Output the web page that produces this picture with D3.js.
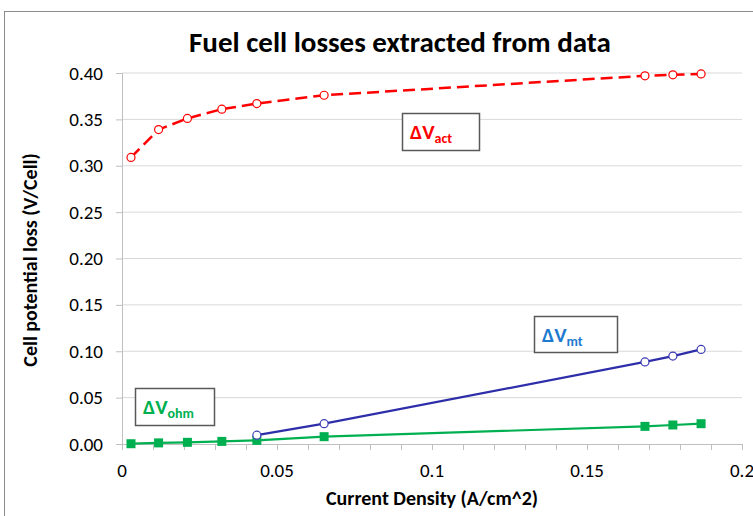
<!DOCTYPE html>
<html>
<head>
<meta charset="utf-8">
<script src="https://cdn.jsdelivr.net/npm/d3@7"></script>
<style>
  body { margin: 0; background: #fff; }
  text { font-family: Carlito, Calibri, "Open Sans", sans-serif; }
</style>
</head>
<body>
<div id="chart"></div>
<script>
// current density (A/cm^2)
var xAct = [0.0029, 0.0118, 0.0211, 0.0322, 0.0435, 0.0652, 0.1687, 0.1777, 0.1868];
var vAct = [0.309, 0.339, 0.351, 0.361, 0.367, 0.376, 0.397, 0.398, 0.399];

var xOhm = [0.0029, 0.0118, 0.0211, 0.0322, 0.0435, 0.0652, 0.1687, 0.1777, 0.1868];
var vOhm = [0.0003, 0.0012, 0.0018, 0.0028, 0.0039, 0.0079, 0.0190, 0.0205, 0.0219];

var xMt = [0.0435, 0.0652, 0.1687, 0.1777, 0.1868];
var vMt = [0.0095, 0.0219, 0.0885, 0.0948, 0.1020];

var yTicks = [0, 0.05, 0.1, 0.15, 0.2, 0.25, 0.3, 0.35, 0.4];
var xTicks = [0, 0.05, 0.1, 0.15, 0.2];
var xTickLabels = ["0", "0.05", "0.1", "0.15", "0.2"];

var width = 753, height = 516;
var margin = {left: 122, right: 11, top: 73, bottom: 72};

var svg = d3.select("#chart").append("svg")
    .attr("width", width)
    .attr("height", height);

// outer chart frame
svg.append("rect")
    .attr("x", 4.5).attr("y", 11.5)
    .attr("width", 800).attr("height", 600)
    .attr("fill", "none")
    .attr("stroke", "#8c8c8c")
    .attr("stroke-width", 1);

var xScale = d3.scaleLinear()
    .domain([0, 0.2])
    .range([margin.left, width - margin.right]);

var yScale = d3.scaleLinear()
    .domain([0, 0.4])
    .range([height - margin.bottom, margin.top]);

// gridlines
svg.append("g")
    .selectAll("line")
    .data(yTicks.slice(1))
    .enter().append("line")
    .attr("x1", xScale(0)).attr("x2", xScale(0.2))
    .attr("y1", function (d) { return yScale(d); })
    .attr("y2", function (d) { return yScale(d); })
    .attr("stroke", "#d9d9d9")
    .attr("stroke-width", 1);

// y axis
var yAxis = d3.axisLeft(yScale)
    .tickValues(yTicks)
    .tickSize(6)
    .tickFormat(d3.format(".2f"));

var gy = svg.append("g")
    .attr("transform", "translate(" + xScale(0) + ",0)")
    .call(yAxis);
gy.select(".domain").attr("stroke", "#bfbfbf");
gy.selectAll(".tick line").attr("stroke", "#bfbfbf");
gy.selectAll(".tick text")
    .attr("x", -19)
    .attr("font-size", 19)
    .attr("fill", "#000");

// x axis: major labels + minor ticks every 0.01
var xAxis = d3.axisBottom(xScale)
    .ticks(20)
    .tickSize(6)
    .tickFormat("");

var gx = svg.append("g")
    .attr("transform", "translate(0," + yScale(0) + ")")
    .call(xAxis);
gx.select(".domain").attr("stroke", "#bfbfbf");
gx.selectAll(".tick line").attr("stroke", "#bfbfbf");

svg.append("g")
    .selectAll("text")
    .data(xTicks)
    .enter().append("text")
    .attr("x", function (d) { return xScale(d); })
    .attr("y", 477)
    .attr("text-anchor", "middle")
    .attr("font-size", 19)
    .text(function (d, i) { return xTickLabels[i]; });

// titles
svg.append("text")
    .attr("x", 400).attr("y", 52)
    .attr("text-anchor", "middle")
    .attr("font-size", 29)
    .attr("font-weight", "bold")
    .text("Fuel cell losses extracted from data");

svg.append("text")
    .attr("x", 432).attr("y", 505)
    .attr("text-anchor", "middle")
    .attr("font-size", 20)
    .attr("font-weight", "bold")
    .text("Current Density (A/cm^2)");

svg.append("text")
    .attr("transform", "translate(37,260) rotate(-90)")
    .attr("text-anchor", "middle")
    .attr("font-size", 20)
    .attr("font-weight", "bold")
    .text("Cell potential loss (V/Cell)");

var line = d3.line()
    .x(function (d) { return xScale(d.x); })
    .y(function (d) { return yScale(d.y); });

function pts(xs, ys) {
    return xs.map(function (x, i) { return {x: x, y: ys[i]}; });
}

var actData = pts(xAct, vAct);
var ohmData = pts(xOhm, vOhm);
var mtData = pts(xMt, vMt);

// ohmic (green, squares)
svg.append("path")
    .attr("d", line(ohmData))
    .attr("fill", "none")
    .attr("stroke", "#00b050")
    .attr("stroke-width", 2.2);

// mass transport (blue, open circles)
svg.append("path")
    .attr("d", line(mtData))
    .attr("fill", "none")
    .attr("stroke", "#2e2eaa")
    .attr("stroke-width", 2.2);

svg.append("g")
    .selectAll("rect")
    .data(ohmData)
    .enter().append("rect")
    .attr("x", function (d) { return xScale(d.x) - 4.5; })
    .attr("y", function (d) { return yScale(d.y) - 4.5; })
    .attr("width", 9).attr("height", 9)
    .attr("fill", "#00b050");

svg.append("g")
    .selectAll("circle")
    .data(mtData)
    .enter().append("circle")
    .attr("cx", function (d) { return xScale(d.x); })
    .attr("cy", function (d) { return yScale(d.y); })
    .attr("r", 4)
    .attr("fill", "#fff")
    .attr("stroke", "#3c3cb4")
    .attr("stroke-width", 1.2);

// activation (red dashed, open circles)
svg.append("path")
    .attr("d", line(actData))
    .attr("fill", "none")
    .attr("stroke", "#ff0000")
    .attr("stroke-width", 2.5)
    .attr("stroke-dasharray", "12,6");

svg.append("g")
    .selectAll("circle")
    .data(actData)
    .enter().append("circle")
    .attr("cx", function (d) { return xScale(d.x); })
    .attr("cy", function (d) { return yScale(d.y); })
    .attr("r", 4)
    .attr("fill", "#fff")
    .attr("stroke", "#ff0000")
    .attr("stroke-width", 1.2);

// labels in boxes
var labels = [
    {x: 402, y: 113, w: 77, h: 37, sub: "act", color: "#ff0000"},
    {x: 534, y: 316, w: 83, h: 36, sub: "mt", color: "#1f7bd0"},
    {x: 135, y: 388, w: 79, h: 37, sub: "ohm", color: "#00b050"}
];

labels.forEach(function (l) {
    svg.append("rect")
        .attr("x", l.x + 0.5).attr("y", l.y + 0.5)
        .attr("width", l.w).attr("height", l.h)
        .attr("fill", "#fff")
        .attr("stroke", "#595959")
        .attr("stroke-width", 1.5);
    var t = svg.append("text")
        .attr("x", l.x + 8).attr("y", l.y + 26)
        .attr("fill", l.color)
        .attr("font-weight", "bold")
        .attr("font-size", 21);
    t.append("tspan").text("\u0394V");
    t.append("tspan")
        .attr("font-size", 14)
        .attr("dy", 4)
        .text(l.sub);
});
</script>
</body>
</html>
